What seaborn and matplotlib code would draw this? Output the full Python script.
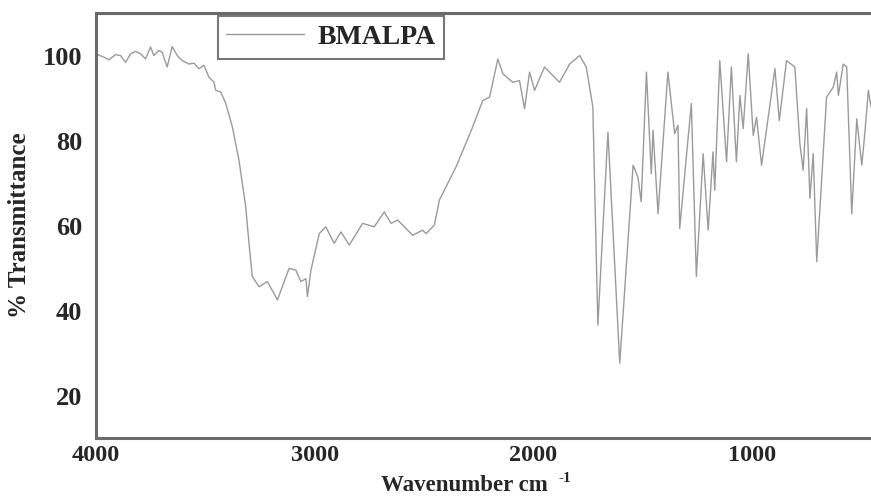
import matplotlib
matplotlib.use("Agg")
import matplotlib.pyplot as plt
import seaborn as sns
import pandas as pd

# ---- data ----
wavenumber = [
    4000, 3963, 3940, 3910, 3887, 3864, 3841, 3818, 3795, 3773, 3750, 3735,
    3712, 3697, 3674, 3651, 3628, 3605, 3574, 3551, 3529, 3506, 3483, 3460,
    3452, 3429, 3406, 3376, 3346, 3315, 3300, 3285, 3254, 3216, 3170, 3117,
    3086, 3063, 3040, 3033, 3017, 2979, 2949, 2911, 2880, 2842, 2781, 2728,
    2682, 2651, 2621, 2552, 2507, 2491, 2453, 2430, 2354, 2278, 2232, 2201,
    2178, 2163, 2140, 2095, 2064, 2041, 2018, 1995, 1950, 1927, 1881, 1835,
    1789, 1759, 1729, 1706, 1660, 1606, 1545, 1523, 1508, 1484, 1462, 1454,
    1431, 1386, 1355, 1340, 1332, 1279, 1256, 1225, 1202, 1180, 1172, 1149,
    1118, 1096, 1073, 1057, 1042, 1019, 996, 981, 958, 935, 897, 877,
    844, 806, 783, 768, 752, 737, 722, 706, 661, 630, 615, 607,
    585, 569, 546, 523, 500, 485, 470, 458,
]
transmittance = [
    100.4, 99.6, 99.0, 100.2, 100.0, 98.4, 100.4, 101.0, 100.4, 99.2, 102.0, 100.0,
    101.2, 100.8, 97.3, 102.1, 100.0, 98.8, 98.0, 98.2, 96.9, 97.7, 94.9, 93.7,
    91.8, 91.4, 88.7, 83.2, 75.4, 64.4, 55.8, 48.0, 45.6, 46.8, 42.5, 49.9,
    49.5, 46.8, 47.5, 43.3, 49.5, 58.1, 59.7, 55.8, 58.5, 55.4, 60.5, 59.7,
    63.2, 60.5, 61.3, 57.7, 58.9, 58.1, 60.1, 66.0, 73.8, 83.2, 89.4, 90.2,
    95.7, 99.2, 95.7, 93.7, 94.1, 87.5, 96.1, 91.8, 97.3, 96.1, 93.7, 98.0,
    100.0, 97.3, 87.9, 36.6, 82.0, 27.6, 74.2, 71.4, 65.6, 96.1, 72.2, 82.4,
    62.8, 96.1, 81.6, 83.6, 59.3, 88.7, 48.0, 76.9, 58.9, 77.3, 68.3, 98.8,
    75.0, 97.3, 75.0, 90.6, 82.8, 100.4, 81.2, 85.5, 74.2, 82.8, 96.9, 84.7,
    98.8, 97.3, 79.3, 73.0, 87.5, 66.4, 76.9, 51.5, 90.2, 92.6, 96.1, 90.6,
    98.0, 97.3, 62.8, 85.1, 74.2, 82.4, 91.8, 88.0,
]
x_ticks = [4000, 3000, 2000, 1000]
y_ticks = [20, 40, 60, 80, 100]
series_name = "BMALPA"
x_label = "Wavenumber cm"
x_label_sup = "-1"
y_label = "% Transmittance"

df = pd.DataFrame({"Wavenumber": wavenumber, "Transmittance": transmittance})

sns.set_style("white")
plt.rcParams["font.family"] = ["Liberation Serif", "DejaVu Serif"]
plt.rcParams["font.weight"] = "bold"

W, H = 871, 497
fig = plt.figure(figsize=(W / 100, H / 100), dpi=100)
ax = fig.add_axes([0.110, 0.1187, 0.890, 0.8551])

sns.lineplot(data=df, x="Wavenumber", y="Transmittance", sort=False,
             estimator=None, color="#9a9a9a", linewidth=1.0,
             label=series_name, ax=ax)

ax.set_xlim(4000, 458)
ax.set_ylim(10, 110)
ax.set_xticks(x_ticks)
ax.set_yticks(y_ticks)
ax.tick_params(axis="both", length=0, labelsize=19)
ax.tick_params(axis="x", pad=5, labelsize=17.5)
ax.tick_params(axis="y", pad=10)
for lab in ax.get_xticklabels() + ax.get_yticklabels():
    lab.set_fontweight("bold")

ax.set_xlabel(x_label, fontsize=16.5, fontweight="bold")
ax.xaxis.label.set_verticalalignment("baseline")
ax.xaxis.set_label_coords(0.475, -0.1247)
ax.set_ylabel(y_label, fontsize=18, fontweight="bold", labelpad=8)

for side in ["left", "bottom", "top"]:
    ax.spines[side].set_color("#6a6a6a")
    ax.spines[side].set_linewidth(2.2)
ax.spines["right"].set_visible(False)

leg = ax.legend(loc="upper left", bbox_to_anchor=(0.157, 0.992), borderaxespad=0,
                frameon=True, fancybox=False, handlelength=2.8, handletextpad=0.5,
                borderpad=0.3, prop={"size": 20, "weight": "bold"})
leg.get_frame().set_edgecolor("#555555")
leg.get_frame().set_linewidth(1.5)

# superscript placed just after the x-axis label
fig.canvas.draw()
bb = ax.xaxis.label.get_window_extent()
fig.text((bb.x1 + 11) / W, (H - 482) / H, x_label_sup, fontsize=11,
         fontweight="bold", ha="left", va="baseline")

fig.savefig("out.png", dpi=100)
